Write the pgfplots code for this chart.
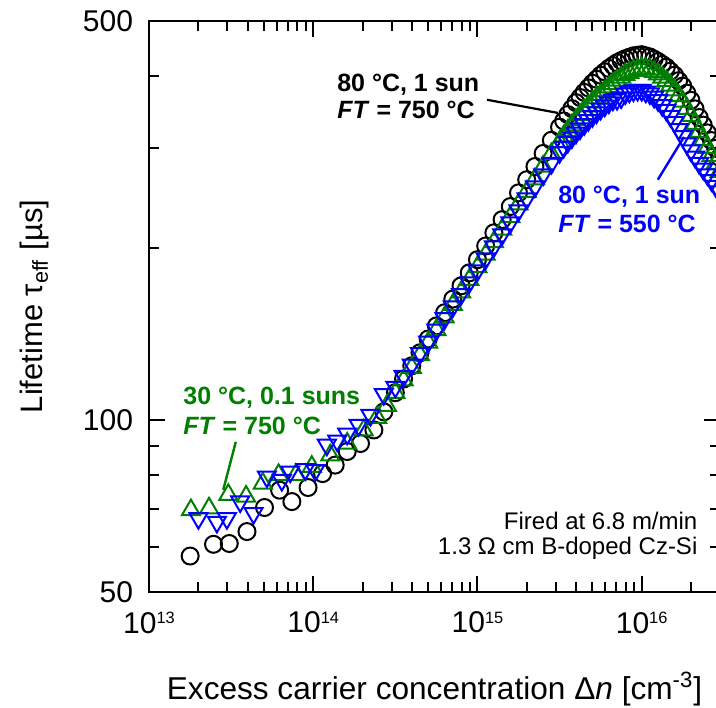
\documentclass[border=0pt]{standalone}
\usepackage{fontspec}
\setmainfont{Liberation Sans}
\usepackage{pgfplots}
\pgfplotsset{compat=1.18}
\usepackage{pgfplotstable}

\definecolor{dgreen}{RGB}{0,128,0}
\definecolor{dblue}{RGB}{0,0,255}

\newcommand{\sps}[1]{\raisebox{4.8bp}{\fontsize{8.2bp}{9bp}\selectfont #1}}

% low-injection points (sparse)
\pgfplotstableread{
x y
1.78e13 57.8
2.47e13 60.6
3.08e13 60.8
3.95e13 63.8
5.05e13 70.3
6.24e13 75.4
7.41e13 72.0
9.30e13 76.2
1.14e14 80.6
1.36e14 83.4
1.61e14 88.1
1.94e14 91.0
2.34e14 96.1
2.69e14 103.4
}\blacklow

\pgfplotstableread{
x y
1.80e13 69.6
2.32e13 70.1
3.04e13 74.0
3.90e13 73.5
4.93e13 77.5
6.15e13 80.2
7.83e13 80.2
9.80e13 82.9
1.27e14 86.8
1.61e14 91.0
2.03e14 96.0
2.45e14 101.0
2.81e14 106.0
}\greenlow

\pgfplotstableread{
x y
2.00e13 67.3
2.59e13 66.3
2.98e13 67.3
3.59e13 72.0
4.33e13 68.7
5.22e13 79.6
6.44e13 78.5
7.24e13 81.2
8.94e13 82.0
1.03e14 81.7
1.21e14 90.5
1.40e14 92.0
1.61e14 94.6
1.89e14 98.0
2.23e14 102.0
2.69e14 111.0
}\bluelow

% high-injection points (dense): x, black, green, blue
\pgfplotstableread{
x k g b
3.162e14 111.7 111.7 114.3
3.548e14 118.0 117.5 119.4
3.981e14 124.5 123.6 125.0
4.467e14 131.2 130.0 130.9
5.012e14 138.7 136.8 137.1
5.623e14 146.2 143.9 143.9
6.310e14 154.2 151.4 150.7
7.079e14 162.9 159.2 158.1
7.943e14 171.8 167.5 166.0
8.913e14 181.1 176.2 174.2
1.000e15 191.0 185.4 182.8
1.122e15 201.8 195.0 191.9
1.259e15 212.8 205.1 201.4
1.413e15 224.4 215.8 211.4
1.585e15 236.6 227.0 221.8
1.778e15 250.0 238.8 232.8
1.995e15 263.6 251.2 244.3
2.239e15 278.0 264.3 256.4
2.512e15 293.1 278.0 269.2
2.818e15 309.0 292.4 281.8
3.162e15 325.8 306.9 294.4
3.350e15 334.2 314.1 300.6
3.548e15 342.8 321.4 306.9
3.758e15 351.2 328.5 312.6
3.981e15 359.7 335.7 318.4
4.217e15 367.3 342.4 324.0
4.467e15 375.0 349.2 329.6
4.732e15 381.9 354.8 335.0
5.012e15 389.1 361.0 340.4
5.309e15 395.4 366.4 345.5
5.623e15 401.8 371.5 350.8
5.957e15 407.4 377.1 355.2
6.310e15 413.0 382.8 359.7
6.683e15 417.8 388.1 363.9
7.079e15 422.7 393.6 364.8
7.499e15 426.1 398.1 367.3
7.943e15 429.5 402.7 373.2
8.414e15 432.0 406.0 375.8
8.913e15 434.5 409.3 377.6
9.441e15 435.5 411.2 378.4
1.000e16 436.5 413.0 378.4
1.059e16 434.5 412.1 375.8
1.122e16 432.5 411.2 373.2
1.189e16 428.6 407.4 368.1
1.259e16 424.6 403.6 363.1
1.334e16 419.8 398.1 356.0
1.413e16 415.0 392.7 349.2
1.496e16 408.3 385.5 340.8
1.585e16 401.8 378.4 332.7
1.679e16 393.1 369.8 323.2
1.778e16 384.6 361.4 314.1
1.884e16 373.7 351.2 305.1
1.995e16 363.1 341.2 296.5
2.113e16 350.8 330.4 289.1
2.239e16 338.8 319.9 281.8
2.371e16 328.5 309.7 275.4
2.512e16 318.4 299.9 269.2
2.661e16 308.7 290.4 263.0
2.818e16 299.2 281.2 257.0
2.985e16 288.4 272.3 251.2
}\dense

\begin{document}
\begin{tikzpicture}
\begin{axis}[
  at={(0,0)}, anchor=south west,
  scale only axis, width=285.5bp, height=285.5bp,
  xmode=log, ymode=log,
  xmin=1e13, xmax=3e16, ymin=50, ymax=500,
  xtick={1e13,1e14,1e15,1e16},
  xticklabels={10\sps{13},10\sps{14},10\sps{15},10\sps{16}},
  minor xtick={2e13,3e13,4e13,5e13,6e13,7e13,8e13,9e13,
               2e14,3e14,4e14,5e14,6e14,7e14,8e14,9e14,
               2e15,3e15,4e15,5e15,6e15,7e15,8e15,9e15,
               2e16,3e16},
  ytick={50,100,500}, yticklabels={50,100,500},
  minor ytick={60,70,80,90,200,300,400},
  tick align=inside,
  major tick length=8bp, minor tick length=5bp,
  tick style={black, line width=1bp},
  axis line style={line width=1bp},
  tick label style={font=\fontsize{15bp}{18bp}\selectfont},
  xticklabel style={yshift=-6.5bp},
  yticklabel style={xshift=-4.5bp},
  xlabel={Excess carrier concentration Δ\textit{n} [cm\textsuperscript{-3}]},
  ylabel={Lifetime τ\textsubscript{eff} [µs]},
  xlabel style={font=\fontsize{15.8bp}{18bp}\selectfont, at={(axis description cs:0.5,-0.1891)}, anchor=base},
  ylabel style={font=\fontsize{15.5bp}{18bp}\selectfont, at={(axis description cs:-0.1874,0.5)}, anchor=base},
]
\addplot[only marks, mark=o, mark size=4.25bp, mark options={line width=1bp, draw=black}] table {\blacklow};
\addplot[only marks, mark=o, mark size=4.25bp, mark options={line width=1bp, draw=black}] table[x=x, y=k] {\dense};
\addplot[only marks, mark=triangle, mark size=5.2bp, mark options={line width=1bp, draw=dgreen}] table {\greenlow};
\addplot[only marks, mark=triangle, mark size=5.2bp, mark options={line width=1bp, draw=dgreen}] table[x=x, y=g] {\dense};
\addplot[only marks, mark=triangle, mark size=5.2bp, mark options={line width=1bp, draw=dblue, rotate=180}] table {\bluelow};
\addplot[only marks, mark=triangle, mark size=5.2bp, mark options={line width=1bp, draw=dblue, rotate=180}] table[x=x, y=b] {\dense};

% annotations
\draw[black, line width=1.1bp] (rel axis cs:0.592,0.862) -- (rel axis cs:0.716,0.839);
\draw[dblue, line width=1.2bp] (rel axis cs:0.891,0.722) -- (rel axis cs:0.937,0.797);
\draw[dgreen, line width=1.2bp] (rel axis cs:0.152,0.263) -- (rel axis cs:0.130,0.179);

\node[anchor=base west, inner sep=0, font=\fontsize{12.5bp}{15bp}\selectfont\bfseries] at (rel axis cs:0.329,0.876) {80 °C, 1 sun};
\node[anchor=base west, inner sep=0, font=\fontsize{12.5bp}{15bp}\selectfont\bfseries] at (rel axis cs:0.329,0.830) {\textit{FT} = 750 °C};

\node[anchor=base west, inner sep=0, text=dblue, font=\fontsize{12.5bp}{15bp}\selectfont\bfseries] at (rel axis cs:0.716,0.681) {80 °C, 1 sun};
\node[anchor=base west, inner sep=0, text=dblue, font=\fontsize{12.5bp}{15bp}\selectfont\bfseries] at (rel axis cs:0.716,0.629) {\textit{FT} = 550 °C};

\node[anchor=base west, inner sep=0, text=dgreen, font=\fontsize{12.5bp}{15bp}\selectfont\bfseries] at (rel axis cs:0.0595,0.3275) {30 °C, 0.1 suns};
\node[anchor=base west, inner sep=0, text=dgreen, font=\fontsize{12.5bp}{15bp}\selectfont\bfseries] at (rel axis cs:0.0595,0.275) {\textit{FT} = 750 °C};

\node[anchor=base east, inner sep=0, font=\fontsize{12bp}{14bp}\selectfont] at (rel axis cs:0.961,0.110) {Fired at 6.8 m/min};
\node[anchor=base east, inner sep=0, font=\fontsize{12bp}{14bp}\selectfont] at (rel axis cs:0.961,0.0665) {1.3 Ω cm B-doped Cz-Si};
\end{axis}
\pgfresetboundingbox
\useasboundingbox (-74.5bp,-58bp) rectangle (283.5bp,296bp);
\end{tikzpicture}
\end{document}
